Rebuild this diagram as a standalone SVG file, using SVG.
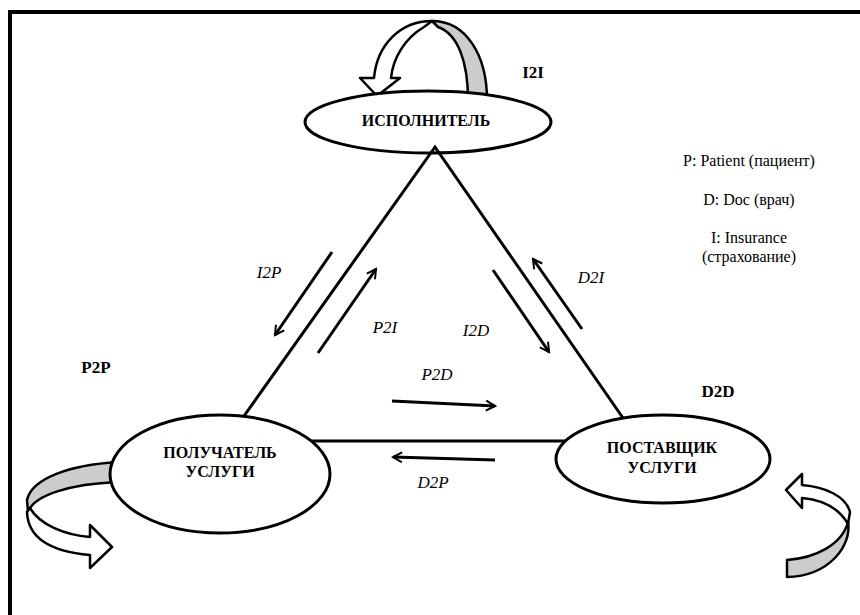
<svg xmlns="http://www.w3.org/2000/svg" width="860" height="615" viewBox="0 0 860 615">
<style>
.frame{stroke:#000;stroke-width:4;fill:none}
.node{fill:#fff;stroke:#000;stroke-width:3}
.edge{stroke:#000;stroke-width:3;fill:none}
.flow{stroke:#000;stroke-width:3;fill:none;marker-end:url(#ah)}
.band{fill:#fff;stroke:#000;stroke-width:2.5;stroke-linejoin:round}
.gray{fill:#cccccc;stroke:#000;stroke-width:2.5;stroke-linejoin:round}
text{font-family:'Liberation Serif','DejaVu Serif',serif;fill:#000;text-anchor:middle}
.nt{font-weight:bold;font-size:16px}
.lbl{font-style:italic;font-size:17px}
.bl{font-weight:bold;font-size:17px}
.lg{font-size:16px}
</style>
<defs>
<marker id="ah" viewBox="0 0 12 12" refX="10" refY="6" markerWidth="12" markerHeight="12" markerUnits="userSpaceOnUse" orient="auto">
<path d="M1,1 L10,6 L1,11" fill="none" stroke="#000" stroke-width="2"/>
</marker>
</defs>
<rect width="860" height="615" fill="#fff"/>
<path class="frame" d="M10,615 L10,12 L860,12"/>

<g id="loops">
<path class="gray" d="M468,100 C468,62 458,34 438,27 L432,21 C466,21 487,55 487,100 Z"/>
<path class="band" d="M360,78 L374,78 C377,45 400,21 432,21 L424,27 C405,38 393,58 391,78 L400,78 L377,96 Z"/>
<path class="gray" d="M118,462 C70,465 32,478 27,500 L28,512 C34,495 70,484 118,482 Z"/>
<path class="band" d="M30,508 C40,525 65,535 90,537 L90,525 L112,547 L90,568 L90,555 C55,552 28,540 27,512 Z"/>
<path class="gray" d="M787,560 C815,558 842,545 848,522 C852,545 830,576 787,577 Z"/>
<path class="band" d="M802,485 C825,487 846,496 850,512 L848,524 C840,510 825,500 802,498 L802,508 L786,490 L802,474 Z"/>
</g>

<g id="node-I">
<ellipse class="node" cx="428" cy="122" rx="123" ry="31"/>
<text class="nt" x="426" y="126">ИСПОЛНИТЕЛЬ</text>
</g>
<g id="node-P">
<ellipse class="node" cx="220" cy="474" rx="110" ry="59"/>
<text class="nt" x="220" y="458">ПОЛУЧАТЕЛЬ</text>
<text class="nt" x="220" y="477">УСЛУГИ</text>
</g>
<g id="node-D">
<ellipse class="node" cx="663" cy="459" rx="107" ry="44"/>
<text class="nt" x="662" y="453">ПОСТАВЩИК</text>
<text class="nt" x="662" y="473">УСЛУГИ</text>
</g>

<g id="connectors">
<path class="edge" d="M244,416 L435,147 L623,418"/>
<path class="edge" d="M311,441 L565,441"/>
<path class="flow" d="M332,252 L275,335"/>
<path class="flow" d="M318,353 L376,269"/>
<path class="flow" d="M493,270 L549,352"/>
<path class="flow" d="M582,329 L533,259"/>
<path class="flow" d="M392,401 L495,406"/>
<path class="flow" d="M495,460 L393,457"/>
</g>

<g id="labels">
<text class="lbl" x="269" y="278">I2P</text>
<text class="lbl" x="385" y="333">P2I</text>
<text class="lbl" x="476" y="336">I2D</text>
<text class="lbl" x="591" y="283">D2I</text>
<text class="lbl" x="437" y="380">P2D</text>
<text class="lbl" x="433" y="488">D2P</text>
<text class="bl" x="533" y="78">I2I</text>
<text class="bl" x="96" y="373">P2P</text>
<text class="bl" x="718" y="397">D2D</text>
</g>

<g id="legend">
<text class="lg" x="749" y="166">P: Patient (пациент)</text>
<text class="lg" x="749" y="205">D: Doc (врач)</text>
<text class="lg" x="749" y="243">I: Insurance</text>
<text class="lg" x="749" y="262">(страхование)</text>
</g>
</svg>
